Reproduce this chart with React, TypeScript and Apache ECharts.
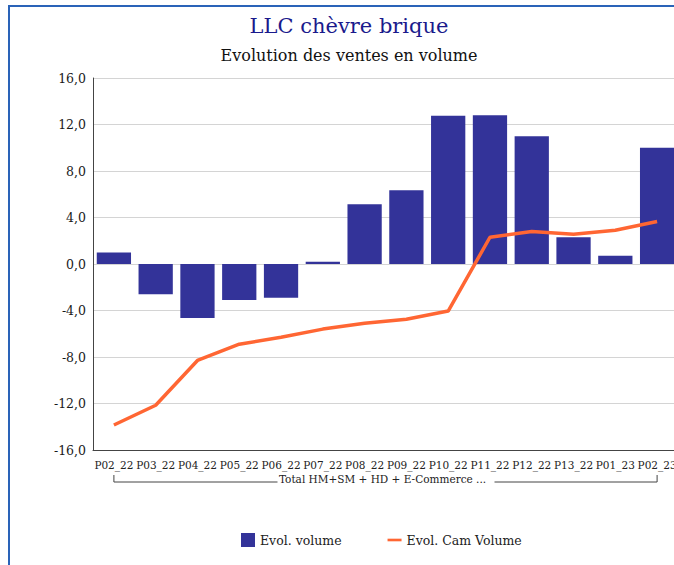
import React, { useEffect, useRef } from "react";
import * as echarts from "echarts";

const categories = ["P02_22", "P03_22", "P04_22", "P05_22", "P06_22", "P07_22", "P08_22", "P09_22", "P10_22", "P11_22", "P12_22", "P13_22", "P01_23", "P02_23"];
const evolVolume = [1.0, -2.6, -4.65, -3.1, -2.9, 0.2, 5.15, 6.35, 12.75, 12.8, 11.0, 2.3, 0.7, 10.0];
const evolCamVolume = [-13.85, -12.15, -8.3, -6.9, -6.3, -5.6, -5.1, -4.75, -4.05, 2.3, 2.8, 2.55, 2.9, 3.65];
const groupLabel = "Total HM+SM + HD + E-Commerce ...";
const yMin = -16;
const yMax = 16;
const yInterval = 4;

const SERIF = "'DejaVu Serif', serif";

export default function App() {
  const ref = useRef<HTMLDivElement>(null);
  useEffect(() => {
    if (!ref.current) return;
    const chart = echarts.init(ref.current, null, { renderer: "svg" });
    const option: any = {
      animation: false,
      backgroundColor: "#ffffff",
      title: [
        {
          text: "LLC chèvre brique",
          left: "center",
          top: 3,
          textStyle: { fontFamily: SERIF, fontSize: 21, fontWeight: "normal", color: "#1a1a8c" },
        },
        {
          text: "Evolution des ventes en volume",
          left: "center",
          top: 35,
          textStyle: { fontFamily: SERIF, fontSize: 16, fontWeight: "normal", color: "#111111" },
        },
      ],
      legend: {
        left: 226,
        top: 521,
        itemGap: 46,
        itemWidth: 14,
        itemHeight: 14,
        textStyle: { fontFamily: SERIF, fontSize: 12.5, color: "#222222" },
        data: [
          { name: "Evol. volume", icon: "rect" },
          { name: "Evol. Cam Volume", icon: "path://M0,0h16v3h-16z" },
        ],
      },
      grid: { left: 83, right: 10, top: 71, bottom: 133, containLabel: false },
      xAxis: {
        type: "category",
        data: categories,
        axisLine: { onZero: false, lineStyle: { color: "#444444", width: 1 } },
        axisTick: { show: false },
        axisLabel: { interval: 0, fontFamily: SERIF, fontSize: 10.5, color: "#222222", margin: 9 },
      },
      yAxis: {
        type: "value",
        min: yMin,
        max: yMax,
        interval: yInterval,
        axisLine: { show: true, lineStyle: { color: "#444444", width: 1 } },
        axisTick: { show: false },
        splitLine: { lineStyle: { color: "#d4d4d4", width: 1 } },
        axisLabel: {
          fontFamily: SERIF,
          fontSize: 12.5,
          color: "#1a1a1a",
          margin: 7,
          formatter: (v: number) => v.toFixed(1).replace(".", ","),
        },
      },
      series: [
        {
          name: "Evol. volume",
          type: "bar",
          data: evolVolume,
          barCategoryGap: "18%",
          itemStyle: { color: "#333399" },
        },
        {
          name: "Evol. Cam Volume",
          type: "line",
          data: evolCamVolume,
          symbol: "none",
          lineStyle: { color: "#ff6633", width: 3.5 },
          itemStyle: { color: "#ff6633" },
          z: 5,
        },
      ],
    };
    chart.setOption(option);

    const p0 = chart.convertToPixel({ xAxisIndex: 0 }, categories[0]) as number;
    const p1 = chart.convertToPixel({ xAxisIndex: 0 }, categories[categories.length - 1]) as number;
    const yBase = chart.convertToPixel({ yAxisIndex: 0 }, yMin) as number;
    const lineY = yBase + 32;
    const mid = (p0 + p1) / 2;
    chart.setOption({
      graphic: [
        {
          type: "polyline",
          shape: { points: [[p0, lineY - 7], [p0, lineY], [mid - 108, lineY]] },
          style: { stroke: "#444444", lineWidth: 1, fill: null },
        },
        {
          type: "polyline",
          shape: { points: [[mid + 109, lineY], [p1, lineY], [p1, lineY - 7]] },
          style: { stroke: "#444444", lineWidth: 1, fill: null },
        },
        {
          type: "text",
          x: mid - 3,
          y: lineY - 3,
          style: {
            text: groupLabel,
            fontFamily: SERIF,
            fontSize: 10.5,
            fill: "#222222",
            align: "center",
            verticalAlign: "middle",
          },
        },
      ],
    });
    return () => chart.dispose();
  }, []);

  return (
    <div style={{ position: "fixed", left: 0, top: 0, width: 674, height: 565, overflow: "hidden", background: "#fff" }}>
      <div
        style={{
          position: "absolute",
          left: 8,
          top: 5,
          width: 682,
          height: 580,
          border: "2px solid #2a63b8",
          boxSizing: "border-box",
        }}
      >
        <div ref={ref} style={{ width: 678, height: 576 }} />
      </div>
    </div>
  );
}
